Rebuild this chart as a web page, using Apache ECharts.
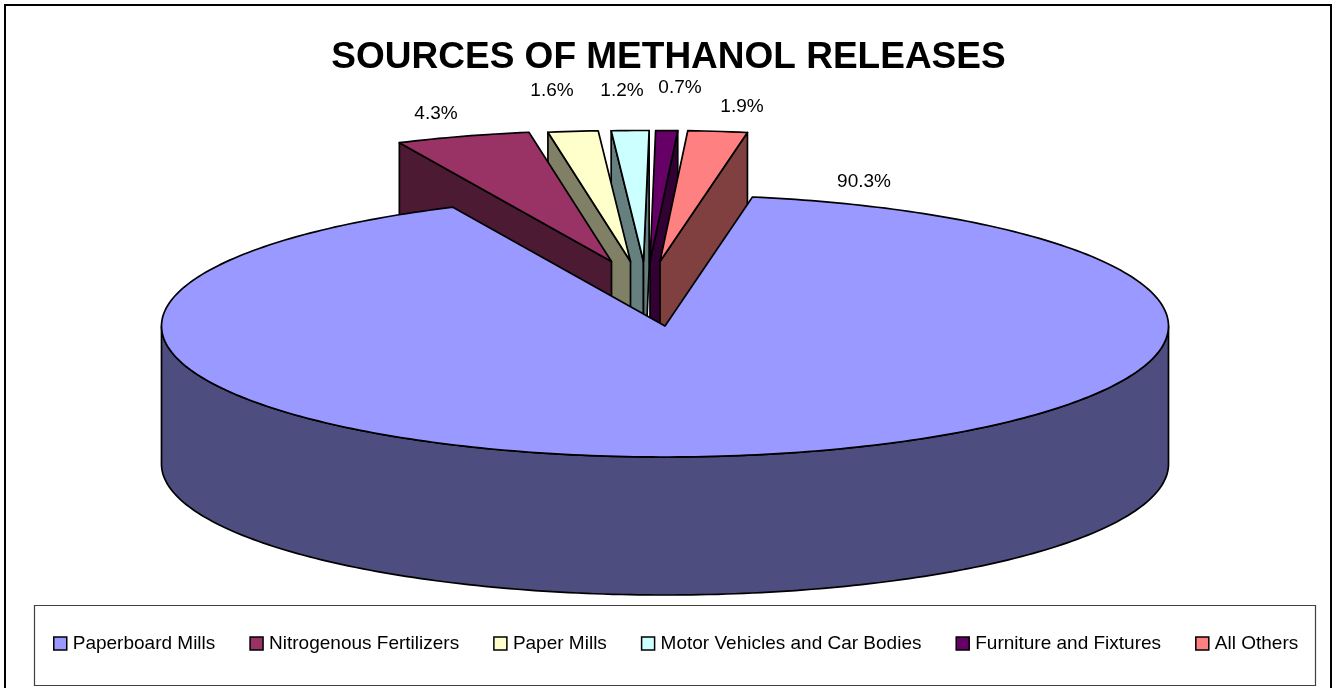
<!DOCTYPE html>
<html>
<head>
<meta charset="utf-8">
<title>Sources of Methanol Releases</title>
<style>
  html, body { margin: 0; padding: 0; background: #ffffff; }
  #chart { width: 1335px; height: 688px; }
</style>
<script src="https://cdn.jsdelivr.net/npm/echarts@6/dist/echarts.min.js"></script>
</head>
<body>
<div id="chart"></div>
<script>
// Chart data
const chartTitle = 'SOURCES OF METHANOL RELEASES';
const categories = ['Paperboard Mills', 'Nitrogenous Fertilizers', 'Paper Mills',
  'Motor Vehicles and Car Bodies', 'Furniture and Fixtures', 'All Others'];
const shares = [90.3, 4.3, 1.6, 1.2, 0.7, 1.9];

// Slice styling
const topColors = ['#9999FF', '#993366', '#FFFFCC', '#CCFFFF', '#660066', '#FF8080'];
const wallColors = ['#4D4D80', '#4D1A33', '#808066', '#668080', '#330033', '#804040'];

// Pie geometry: tilted ellipse, wall height and the pull-out of each slice
const pie = { cx: 665, cy: 326, rx: 503.5, ry: 131, depth: 138, startAngle: 10 };
const explodeX = [0, -53.5, -34.5, -21.5, -15, -5];
const explodeY = [0, -64.5, -64.5, -64.5, -64.5, -64.5];
const labelX = [864, 436, 552, 622, 680, 742];
const labelY = [182, 114, 91, 91, 88, 107];

const total = shares.reduce((a, b) => a + b, 0);
const spans = shares.map(v => v / total * 360);
const starts = spans.map((_, i) => pie.startAngle + spans.slice(0, i).reduce((a, b) => a + b, 0));

// Back slices are painted first, the large slice last
function depthOf(i) {
  const mid = ((starts[i] + spans[i] / 2) % 360 + 360) % 360;
  return Math.min(mid, 360 - mid);
}
const paintRank = categories.map((_, i) =>
  categories.map((_, j) => j).sort((a, b) => depthOf(a) - depthOf(b)).indexOf(i));

// Angles run clockwise from the top of the ellipse
function rimPoint(deg, ox, oy) {
  const t = deg * Math.PI / 180;
  return [pie.cx + ox + pie.rx * Math.sin(t), pie.cy + oy - pie.ry * Math.cos(t)];
}
function arcPoints(a0, a1, ox, oy) {
  const steps = Math.max(2, Math.ceil(Math.abs(a1 - a0)));
  const pts = [];
  for (let k = 0; k <= steps; k++) pts.push(rimPoint(a0 + (a1 - a0) * k / steps, ox, oy));
  return pts;
}
const lowered = pts => pts.map(p => [p[0], p[1] + pie.depth]);

function face(points, fill) {
  return {
    type: 'polygon',
    shape: { points },
    style: { fill, stroke: '#000000', lineWidth: 1.7, lineJoin: 'round' },
    silent: true
  };
}

function renderSlice(params, api) {
  const i = params.seriesIndex;
  const span = api.value(0) / total * 360;
  const a0 = starts[i];
  const a1 = a0 + span;
  const ox = explodeX[i];
  const oy = explodeY[i];
  const tip = [pie.cx + ox, pie.cy + oy];
  const children = [];

  // Cut faces are visible only when the slice interior lies above the edge
  if (span < 180) {
    const inner = rimPoint(a0 + span / 2, ox, oy);
    [a0, a1].forEach(a => {
      const rim = rimPoint(a, ox, oy);
      const edgeY = tip[1] + (rim[1] - tip[1]) * (inner[0] - tip[0]) / (rim[0] - tip[0]);
      if (inner[1] < edgeY) {
        children.push(face([tip, rim, [rim[0], rim[1] + pie.depth], [tip[0], tip[1] + pie.depth]], wallColors[i]));
      }
    });
  }

  // Outer wall on the near half of the ellipse
  const near0 = Math.max(a0, 90);
  const near1 = Math.min(a1, 270);
  if (near1 > near0) {
    const rim = arcPoints(near0, near1, ox, oy);
    children.push(face(rim.concat(lowered(rim).reverse()), wallColors[i]));
  }

  // Top surface
  children.push(face([tip].concat(arcPoints(a0, a1, ox, oy)), topColors[i]));

  // Percentage label
  children.push({
    type: 'text',
    silent: true,
    style: {
      x: labelX[i], y: labelY[i],
      text: api.value(0).toFixed(1) + '%',
      font: '19px "Liberation Sans"',
      fill: '#000000',
      align: 'center',
      verticalAlign: 'middle'
    }
  });
  return { type: 'group', children };
}

const chart = echarts.init(document.getElementById('chart'), null, { renderer: 'canvas' });
chart.setOption({
  animation: false,
  backgroundColor: '#ffffff',
  title: {
    text: chartTitle,
    left: 668.5,
    top: 39,
    padding: [0, 0, 0, 0],
    textAlign: 'center',
    textStyle: { fontFamily: 'Liberation Sans', fontSize: 37, fontWeight: 'bold', color: '#000000' }
  },
  legend: {
    left: 53,
    top: 634,
    padding: 0,
    orient: 'horizontal',
    selectedMode: false,
    itemWidth: 13,
    itemHeight: 13,
    itemGap: 34,
    textStyle: { fontFamily: 'Liberation Sans', fontSize: 19, color: '#000000', padding: [0, 0, 0, 1] },
    data: categories.map((name, i) => ({
      name,
      icon: 'rect',
      itemStyle: { color: topColors[i], borderColor: '#000000', borderWidth: 1.5 }
    }))
  },
  graphic: [
    { type: 'rect', z: 0, silent: true, shape: { x: 5, y: 5, width: 1326, height: 690 },
      style: { fill: '#ffffff', stroke: '#000000', lineWidth: 2 } },
    { type: 'rect', z: 1, silent: true, shape: { x: 34.5, y: 605.5, width: 1281, height: 80 },
      style: { fill: '#ffffff', stroke: '#404040', lineWidth: 1.2 } }
  ],
  series: categories.map((name, i) => ({
    type: 'custom',
    name,
    coordinateSystem: 'none',
    z: 2 + paintRank[i],
    data: [shares[i]],
    itemStyle: { color: topColors[i] },
    renderItem: renderSlice
  }))
});
</script>
</body>
</html>
